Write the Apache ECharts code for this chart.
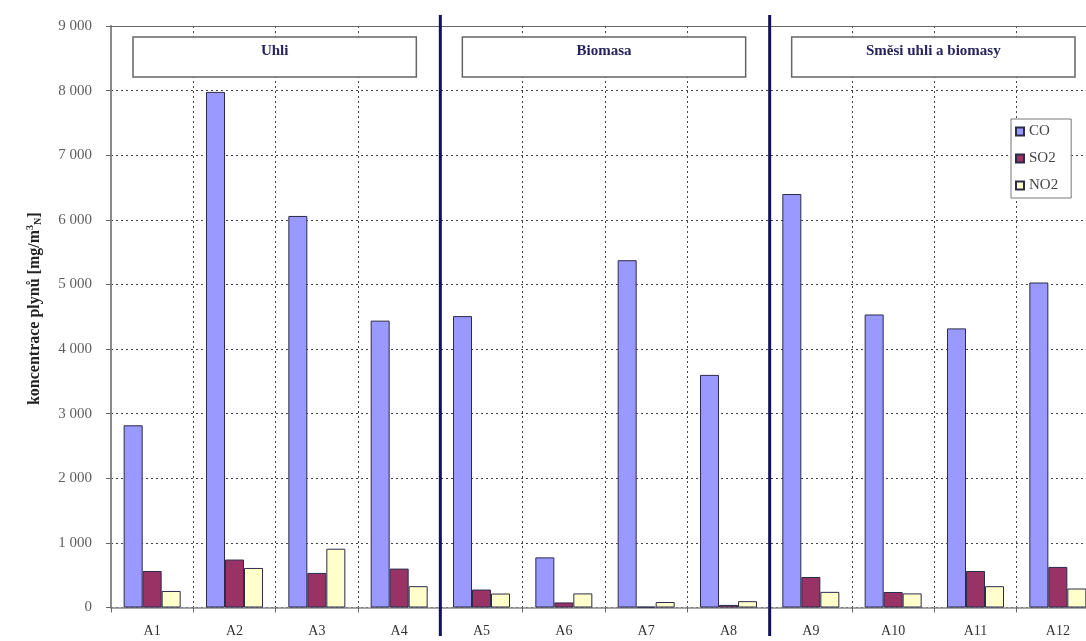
<!DOCTYPE html>
<html>
<head>
<meta charset="utf-8">
<script src="https://cdn.jsdelivr.net/npm/echarts@6/dist/echarts.min.js"></script>
<style>
  html, body { margin: 0; padding: 0; background: #fff; overflow: hidden; }
  #chart { width: 1100px; height: 641px; }
</style>
</head>
<body>
<div id="chart"></div>
<script>
// Samples A1–A12, grouped by fuel type
const categories = ['A1', 'A2', 'A3', 'A4', 'A5', 'A6', 'A7', 'A8', 'A9', 'A10', 'A11', 'A12'];
const seriesNames = ['CO', 'SO2', 'NO2'];
const coValues  = [2820, 7980, 6060, 4440, 4510, 776, 5375, 3600, 6400, 4535, 4320, 5030];
const so2Values = [565, 742, 535, 602, 278, 78, 12, 40, 472, 240, 565, 628];
const no2Values = [256, 612, 910, 330, 216, 218, 85, 98, 242, 218, 330, 294];
const groups = [
  { name: 'Uhli', first: 0, last: 3 },
  { name: 'Biomasa', first: 4, last: 7 },
  { name: 'Směsi uhli a biomasy', first: 8, last: 11 }
];
const yTicks = { min: 0, max: 9000, step: 1000 };

const serif = '"Liberation Serif", "DejaVu Serif", serif';
const chart = echarts.init(document.getElementById('chart'));

function fmtThousands(v) {
  return String(v).replace(/\B(?=(\d{3})+(?!\d))/g, ' ');
}

function barSeries(name, data, fill) {
  return {
    name: name,
    type: 'bar',
    xAxisIndex: 0,
    data: data,
    barWidth: 19,
    barGap: '0%',
    itemStyle: { color: fill, borderColor: '#2b2b4a', borderWidth: 1 }
  };
}

chart.setOption({
  animation: false,
  backgroundColor: '#ffffff',
  grid: { left: 111, top: 26, width: 988, height: 581.5 },
  legend: {
    orient: 'vertical',
    left: 1011,
    top: 119,
    data: seriesNames,
    icon: 'rect',
    itemWidth: 8,
    itemHeight: 8,
    itemGap: 12,
    padding: [5, 13, 5, 4],
    borderColor: '#777',
    borderWidth: 1,
    backgroundColor: '#fff',
    textStyle: { fontFamily: serif, fontSize: 15, color: '#444' }
  },
  xAxis: [{
    type: 'category',
    data: categories,
    axisLine: { lineStyle: { color: '#8a8a8a', width: 1.5 } },
    axisTick: { show: true, length: 5, lineStyle: { color: '#666' } },
    axisLabel: { fontFamily: serif, fontSize: 14, color: '#333', margin: 17 },
    splitLine: { show: true, lineStyle: { color: '#444', type: [2, 3], width: 1 } }
  }, {
    type: 'category',
    data: categories,
    position: 'top',
    axisLine: { lineStyle: { color: '#666', width: 1 } },
    axisTick: { show: false },
    axisLabel: { show: false },
    splitLine: { show: false }
  }],
  yAxis: {
    type: 'value',
    min: yTicks.min,
    max: yTicks.max,
    interval: yTicks.step,
    name: '{t|koncentrace plynů [mg/m}{sup|3}{sub|N}{t|]}',
    nameLocation: 'middle',
    nameRotate: 90,
    nameGap: 67,
    nameTextStyle: {
      padding: [0, 0, 0, 16],
      rich: {
        t: { fontFamily: serif, fontSize: 16, fontWeight: 'bold', color: '#222', verticalAlign: 'middle' },
        sup: { fontFamily: serif, fontSize: 10, fontWeight: 'bold', color: '#222', padding: [0, 0, 9, 0], verticalAlign: 'middle' },
        sub: { fontFamily: serif, fontSize: 10, fontWeight: 'bold', color: '#222', padding: [7, 0, 0, 0], verticalAlign: 'middle' }
      }
    },
    axisLine: { show: true, lineStyle: { color: '#8a8a8a', width: 2 } },
    axisTick: { show: true, length: 5, lineStyle: { color: '#666' } },
    axisLabel: {
      fontFamily: serif, fontSize: 15, color: '#5f5f5f', margin: 19,
      formatter: fmtThousands
    },
    splitLine: { show: true, lineStyle: { color: '#444', type: [2, 3], width: 1 } }
  },
  series: [
    barSeries(seriesNames[0], coValues, '#9999ff'),
    barSeries(seriesNames[1], so2Values, '#993366'),
    barSeries(seriesNames[2], no2Values, '#ffffcc')
  ]
});

// Group separators and group header boxes, placed from the category scale
function drawGroupOverlays() {
  const c0 = chart.convertToPixel({ xAxisIndex: 0 }, categories[0]);
  const c1 = chart.convertToPixel({ xAxisIndex: 0 }, categories[1]);
  const band = c1 - c0;
  const leftEdge = (i) => chart.convertToPixel({ xAxisIndex: 0 }, categories[i]) - band / 2;
  const rightEdge = (i) => chart.convertToPixel({ xAxisIndex: 0 }, categories[i]) + band / 2;

  const elements = [];
  groups.forEach((g, gi) => {
    const x0 = leftEdge(g.first) + 22;
    const x1 = rightEdge(g.last) - 24;
    elements.push({
      type: 'rect',
      z: 100,
      shape: { x: x0, y: 37, width: x1 - x0, height: 40 },
      style: { fill: '#fff', stroke: '#666', lineWidth: 1.5 }
    });
    elements.push({
      type: 'text',
      z: 101,
      x: (x0 + x1) / 2,
      y: 51,
      style: {
        text: g.name,
        fontFamily: serif,
        fontSize: 15,
        fontWeight: 'bold',
        fill: '#25255e',
        align: 'center',
        verticalAlign: 'middle'
      }
    });
    if (gi > 0) {
      const sx = leftEdge(g.first);
      elements.push({
        type: 'line',
        z: 102,
        shape: { x1: sx, y1: 15, x2: sx, y2: 636 },
        style: { stroke: '#12125c', lineWidth: 3 }
      });
    }
  });
  chart.setOption({ graphic: elements });
}
drawGroupOverlays();
</script>
</body>
</html>
